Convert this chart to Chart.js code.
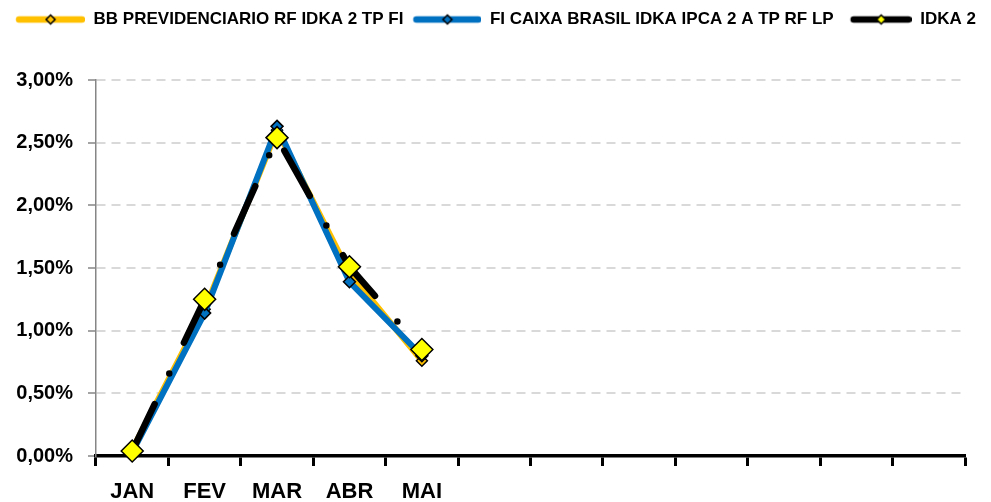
<!DOCTYPE html>
<html><head><meta charset="utf-8">
<script src="https://cdn.jsdelivr.net/npm/chart.js@4.4.1/dist/chart.umd.min.js"></script>
<style>html,body{margin:0;padding:0;background:#fff;}canvas{display:block}</style>
</head><body>
<canvas id="c" width="991" height="502"></canvas>
<script>
const months = ['JAN','FEV','MAR','ABR','MAI','','','','','','',''];
const seriesNames = ['BB PREVIDENCIARIO RF IDKA 2 TP FI','FI CAIXA BRASIL IDKA IPCA 2 A TP RF LP','IDKA 2'];
const bbValues = [0.05, 1.17, 2.60, 1.46, 0.76];
const caixaValues = [0.03, 1.14, 2.63, 1.39, 0.80];
const idkaValues = [0.04, 1.25, 2.54, 1.51, 0.85];
const yTickLabels = ['0,00%','0,50%','1,00%','1,50%','2,00%','2,50%','3,00%'];

const FONT = "'Liberation Sans', Arial, sans-serif";
Chart.defaults.font.family = FONT;

function legendIcon(color, markerFill, x0, x1, mr) {
  const c = document.createElement('canvas'); c.width = 70; c.height = 14;
  const g = c.getContext('2d');
  g.strokeStyle = color; g.lineWidth = 6.5; g.lineCap = 'round';
  g.beginPath(); g.moveTo(x0, 7); g.lineTo(x1, 7); g.stroke();
  const cx = (x0 + x1) / 2;
  g.beginPath(); g.moveTo(cx, 7 - mr); g.lineTo(cx + mr, 7); g.lineTo(cx, 7 + mr); g.lineTo(cx - mr, 7); g.closePath();
  g.fillStyle = markerFill; g.fill(); g.lineWidth = 1.5; g.strokeStyle = '#000'; g.stroke();
  return c;
}
const icons = [
  legendIcon('#FFC000', '#FFC000', 4, 67, 4.5),
  legendIcon('#0070C0', '#0070C0', 5, 67, 4.5),
  legendIcon('#000000', '#FFFF00', 12, 67, 4.5)
];

const legendSpacer = {
  id: 'legendSpacer',
  beforeLayout(chart) {
    const lg = chart.legend;
    if (lg && !lg._patched) {
      const orig = lg.fit;
      lg.fit = function () { orig.call(this); this.height = 77; };
      lg._patched = true;
    }
  }
};

new Chart(document.getElementById('c'), {
  type: 'line',
  data: {
    labels: months,
    datasets: [
      { label: seriesNames[0], data: bbValues, borderColor: '#FFC000', borderWidth: 6, borderJoinStyle: 'round',
        pointStyle: 'rectRot', pointRadius: 5.5, pointBackgroundColor: '#FFC000', pointBorderColor: '#000', pointBorderWidth: 1.5,
        order: 3, tension: 0, clip: false },
      { label: seriesNames[1], data: caixaValues, borderColor: '#0070C0', borderWidth: 6, borderJoinStyle: 'round',
        pointStyle: 'rectRot', pointRadius: 6, pointBackgroundColor: '#0070C0', pointBorderColor: '#000', pointBorderWidth: 1.5,
        order: 2, tension: 0, clip: false },
      { label: seriesNames[2], data: idkaValues, borderColor: '#000000', borderWidth: 6.5, borderDash: [52, 34, 0, 34],
        borderCapStyle: 'round', borderJoinStyle: 'round',
        pointStyle: 'rectRot', pointRadius: 11, pointBackgroundColor: '#FFFF00', pointBorderColor: '#000', pointBorderWidth: 1.5,
        order: 1, tension: 0, clip: false }
    ]
  },
  options: {
    responsive: false, animation: false, devicePixelRatio: 1,
    layout: { padding: { top: 3, right: 0, left: 0, bottom: 0 } },
    plugins: {
      tooltip: { enabled: false },
      legend: {
        display: true, position: 'top', align: 'center',
        labels: {
          usePointStyle: true, pointStyleWidth: 70, boxHeight: 14, padding: 8,
          color: '#000', font: { size: 17, weight: 'bold', family: FONT },
          generateLabels: () => seriesNames.map((n, i) => ({
            text: n, pointStyle: icons[i], datasetIndex: i, hidden: false,
            fillStyle: 'rgba(0,0,0,0)', strokeStyle: 'rgba(0,0,0,0)', lineWidth: 0, fontColor: '#000'
          }))
        }
      }
    },
    scales: {
      x: {
        offset: true,
        grid: { display: true, offset: true, drawOnChartArea: false, drawTicks: true, tickLength: 10, tickColor: '#000', tickWidth: 3 },
        border: { display: true, color: '#000', width: 3.5 },
        ticks: { color: '#000', font: { size: 22, weight: 'bold', family: FONT }, padding: 13, maxRotation: 0, autoSkip: false },
        afterFit(s) { s.height = 46; }
      },
      y: {
        min: 0, max: 3,
        ticks: { stepSize: 0.5, color: '#000', font: { size: 20, weight: 'bold', family: FONT }, padding: 15,
          callback: (v, i) => yTickLabels[i] },
        grid: { color: (ctx) => ctx.index === 0 ? 'rgba(0,0,0,0)' : '#d9d9d9', lineWidth: 2,
          tickColor: '#868686', tickWidth: 1.5, tickLength: 8, drawTicks: true, tickBorderDash: [] },
        border: { display: true, color: '#868686', width: 1.5, dash: [9, 6] },
        afterFit(s) { s.width = 96; }
      },
      yRight: {
        position: 'right', display: true,
        grid: { display: false, drawTicks: false },
        border: { display: false },
        ticks: { display: false },
        afterFit(s) { s.width = 26; }
      }
    }
  },
  plugins: [legendSpacer]
});
</script>
</body></html>
